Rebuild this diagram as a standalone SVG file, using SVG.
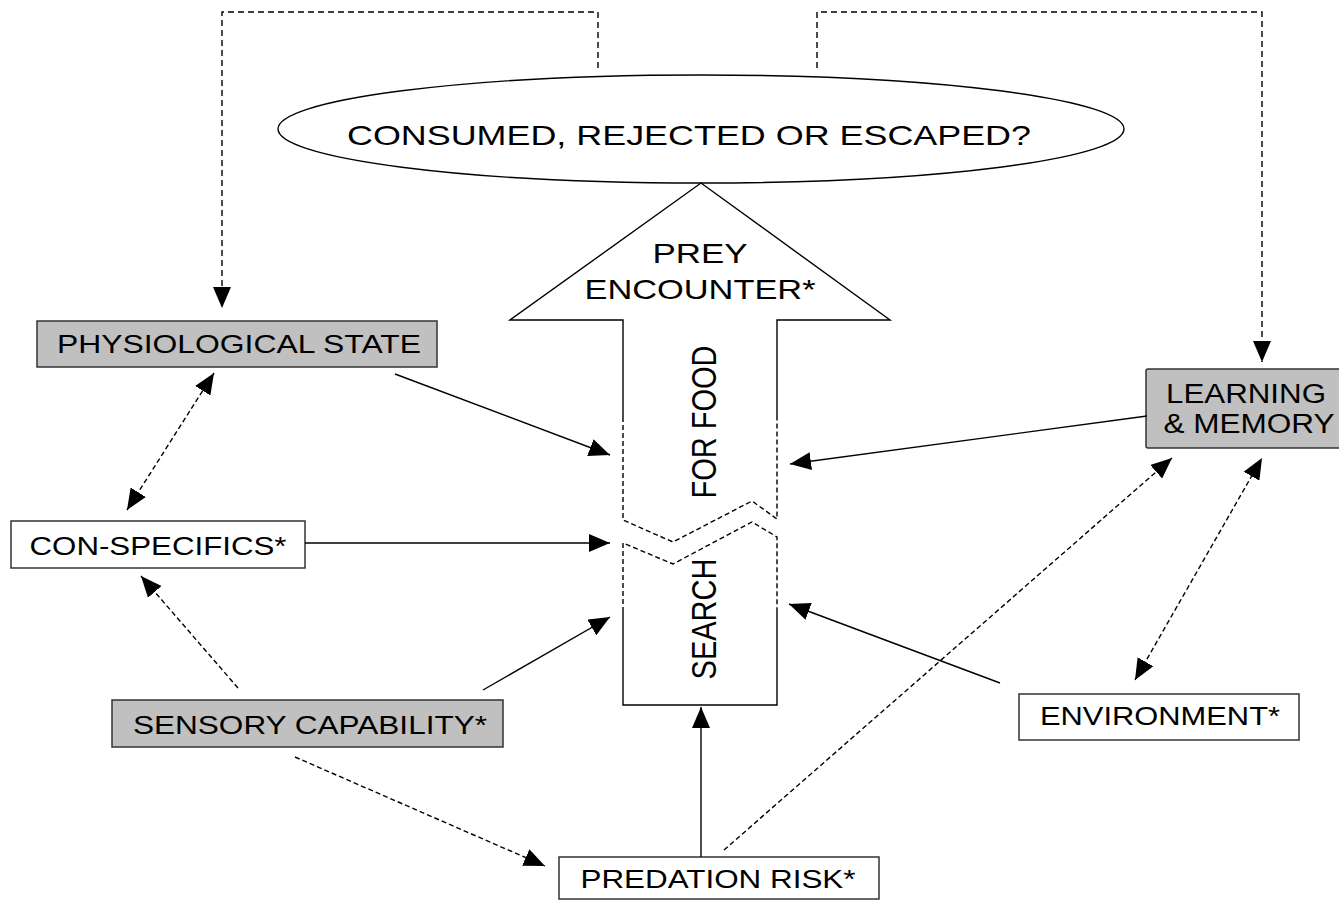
<svg xmlns="http://www.w3.org/2000/svg" width="1339" height="901" viewBox="0 0 1339 901">
<style>
.box{stroke:#333;stroke-width:1.5}
.g{fill:#c0c0c0}
.w{fill:#fff}
.t{font-family:"Liberation Sans",Arial,sans-serif;fill:#000}
.c{fill:none;stroke:#000;stroke-width:1.4}
.d{stroke-dasharray:5,3}
.d2{stroke-dasharray:6,4}
.sh{fill:none;stroke:#000;stroke-width:1.4}
</style>
<defs>
<marker id="ah" viewBox="0 0 21 18" refX="21" refY="9" markerWidth="21" markerHeight="18" markerUnits="userSpaceOnUse" orient="auto-start-reverse">
<path d="M0,0 L21,9 L0,18 Z" fill="#000"/>
</marker>
</defs>
<rect width="1339" height="901" fill="#fff"/>

<g id="outcome">
<ellipse cx="701" cy="129" rx="423" ry="54" fill="#fff" stroke="#000" stroke-width="1.4"/>
<text class="t" x="689" y="145" font-size="28" text-anchor="middle" textLength="684" lengthAdjust="spacingAndGlyphs">CONSUMED, REJECTED OR ESCAPED?</text>
</g>

<g id="search-arrow">
<polygon points="701,183 890,320 777,320 777,705 623,705 623,320 510,320" fill="#fff" stroke="none"/>
<path class="sh" d="M623,612 L623,705 L777,705 L777,612 M777,417 L777,320 L890,320 L701,183 L510,320 L623,320 L623,417"/>
<path class="sh d" d="M623,417 L623,520 L673,542 L752,501 L777,519 L777,417"/>
<path class="sh d" d="M623,612 L623,543 L673,564 L752,522 L777,537 L777,612"/>
<text class="t" x="700" y="263" font-size="28" text-anchor="middle" textLength="95" lengthAdjust="spacingAndGlyphs">PREY</text>
<text class="t" x="700" y="299" font-size="28" text-anchor="middle" textLength="231" lengthAdjust="spacingAndGlyphs">ENCOUNTER*</text>
<text class="t" transform="translate(716,422) scale(1.2,1) rotate(-90)" x="0" y="0" font-size="29" text-anchor="middle">FOR FOOD</text>
<text class="t" transform="translate(716,619) scale(1.2,1) rotate(-90)" x="0" y="0" font-size="29" text-anchor="middle">SEARCH</text>
</g>

<g id="physiological-state">
<rect class="box g" x="37" y="321" width="400" height="46"/>
<text class="t" x="239" y="353" font-size="25" text-anchor="middle" textLength="364" lengthAdjust="spacingAndGlyphs">PHYSIOLOGICAL STATE</text>
</g>

<g id="con-specifics">
<rect class="box w" x="11" y="521" width="294" height="47"/>
<text class="t" x="158" y="555" font-size="25" text-anchor="middle" textLength="257" lengthAdjust="spacingAndGlyphs">CON-SPECIFICS*</text>
</g>

<g id="sensory-capability">
<rect class="box g" x="112" y="700" width="391" height="47"/>
<text class="t" x="310" y="734" font-size="25" text-anchor="middle" textLength="354" lengthAdjust="spacingAndGlyphs">SENSORY CAPABILITY*</text>
</g>

<g id="learning-memory">
<rect class="box g" x="1146" y="369" width="200" height="79" rx="2"/>
<text class="t" x="1246" y="403" font-size="27" text-anchor="middle" textLength="160" lengthAdjust="spacingAndGlyphs">LEARNING</text>
<text class="t" x="1249" y="433" font-size="27" text-anchor="middle" textLength="171" lengthAdjust="spacingAndGlyphs">&amp; MEMORY</text>
</g>

<g id="environment">
<rect class="box w" x="1019" y="694" width="280" height="46"/>
<text class="t" x="1160" y="725" font-size="25" text-anchor="middle" textLength="240" lengthAdjust="spacingAndGlyphs">ENVIRONMENT*</text>
</g>

<g id="predation-risk">
<rect class="box w" x="559" y="857" width="320" height="42"/>
<text class="t" x="718" y="888" font-size="25" text-anchor="middle" textLength="275" lengthAdjust="spacingAndGlyphs">PREDATION RISK*</text>
</g>

<g id="connectors">
<path class="c" d="M395,374 L610,455" marker-end="url(#ah)"/>
<path class="c" d="M305,543 L610,543" marker-end="url(#ah)"/>
<path class="c" d="M483,690 L610,617" marker-end="url(#ah)"/>
<path class="c" d="M1147,416 L790,464" marker-end="url(#ah)"/>
<path class="c" d="M1000,683 L789,604" marker-end="url(#ah)"/>
<path class="c" d="M701,857 L701,707" marker-end="url(#ah)"/>
<path class="c d" d="M724,850 L1172,458" marker-end="url(#ah)"/>
<path class="c d" d="M295,757 L545,866" marker-end="url(#ah)"/>
<path class="c d" d="M238,688 L141,576" marker-end="url(#ah)"/>
<path class="c d" d="M127,510 L214,373" marker-start="url(#ah)" marker-end="url(#ah)"/>
<path class="c d" d="M1135,680 L1262,458" marker-start="url(#ah)" marker-end="url(#ah)"/>
<path class="c d2" d="M598,68 L598,12 L222,12 L222,308" marker-end="url(#ah)"/>
<path class="c d2" d="M817,68 L817,12 L1262,12 L1262,362" marker-end="url(#ah)"/>
</g>
</svg>
